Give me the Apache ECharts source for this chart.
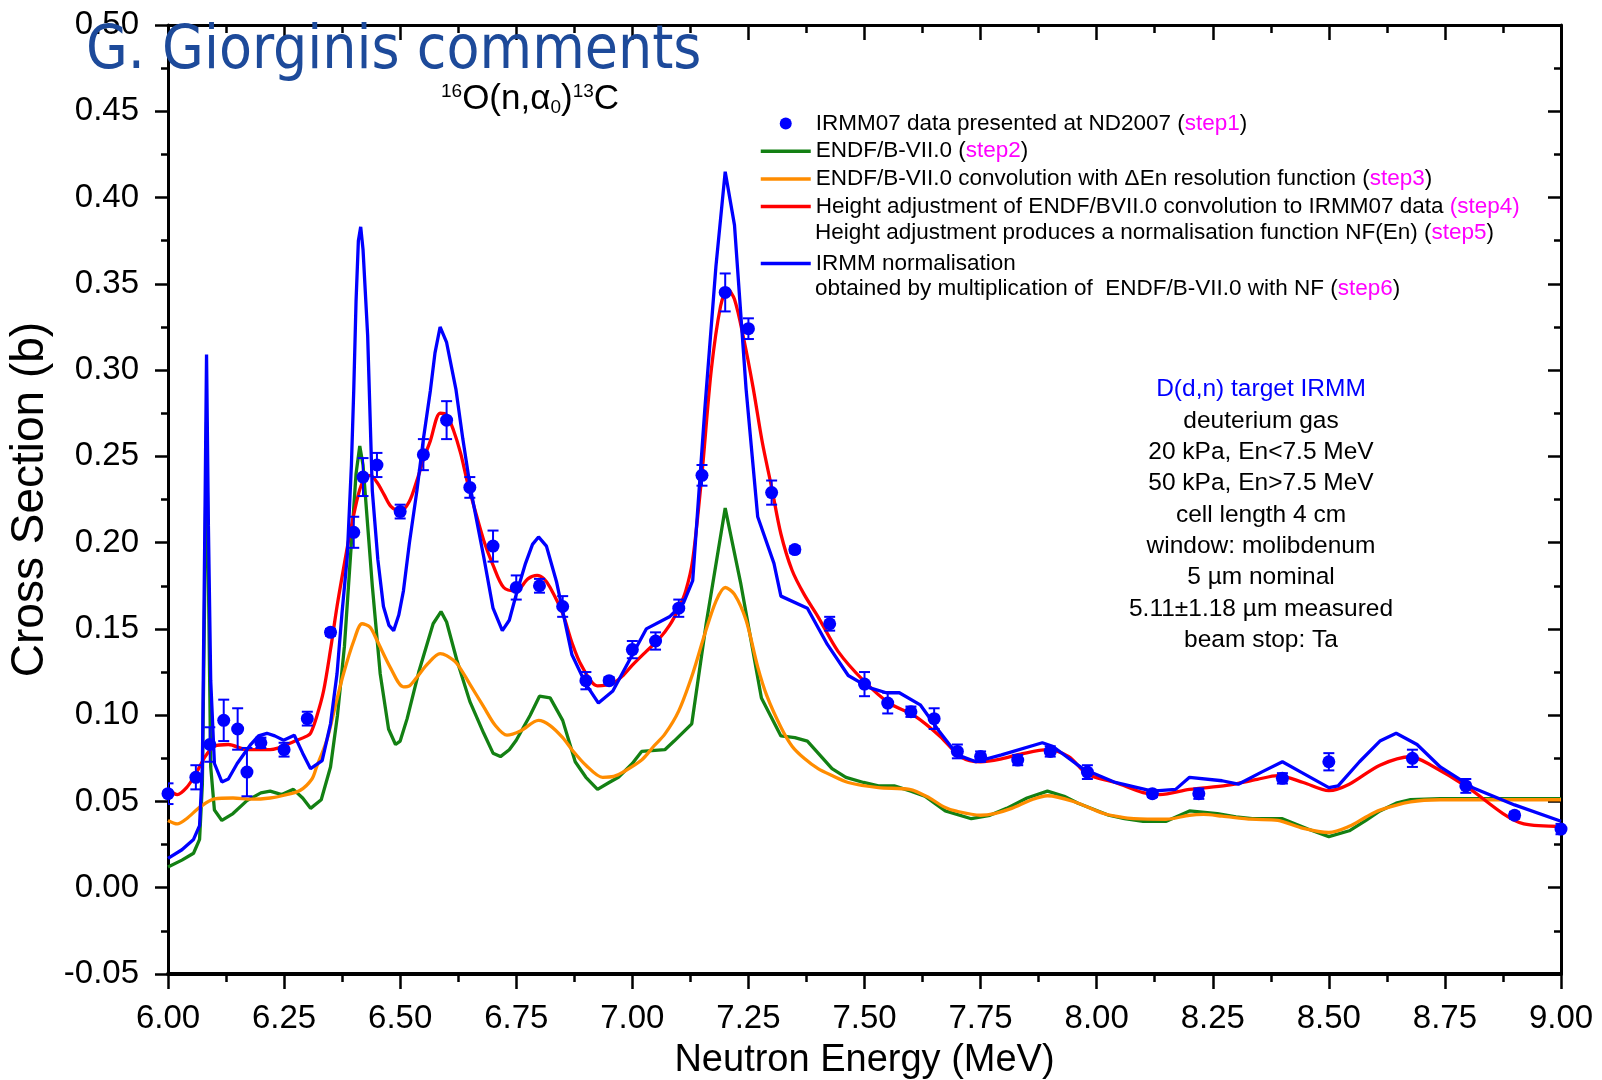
<!DOCTYPE html>
<html lang="en">
<head>
    <meta charset="UTF-8">
    <title>16O(n,a0)13C</title>
    <script src="https://cdn.jsdelivr.net/npm/echarts@6/dist/echarts.min.js"></script>
    <style>
        html, body {margin: 0; padding: 0; background: #fff;}
        #main {width: 1602px; height: 1080px;}
    </style>
</head>
<body>
<div id="main"></div>
<script type="text/javascript">
    // IRMM07 measured points: energy (MeV), cross section (b), error (b)
    var dataE   = [6.00, 6.06, 6.09, 6.12, 6.15, 6.17, 6.20, 6.25, 6.30, 6.35, 6.40, 6.42, 6.45, 6.50, 6.55, 6.60, 6.65, 6.70, 6.75, 6.80,
                   6.85, 6.90, 6.95, 7.00, 7.05, 7.10, 7.15, 7.20, 7.25, 7.30, 7.35, 7.425, 7.50, 7.55, 7.60, 7.65, 7.70, 7.75, 7.83, 7.90,
                   7.98, 8.12, 8.22, 8.40, 8.50, 8.68, 8.795, 8.90, 9.00];
    var dataXS  = [0.0545, 0.064, 0.083, 0.097, 0.092, 0.067, 0.084, 0.080, 0.098, 0.148, 0.206, 0.238, 0.245, 0.218, 0.251, 0.271, 0.232, 0.198, 0.174, 0.175,
                   0.163, 0.120, 0.120, 0.138, 0.143, 0.162, 0.239, 0.345, 0.324, 0.229, 0.196, 0.153, 0.118, 0.107, 0.102, 0.098, 0.079, 0.076, 0.074, 0.079,
                   0.067, 0.0545, 0.0545, 0.0634, 0.073, 0.075, 0.059, 0.042, 0.034];
    var dataErr = [0.006, 0.007, 0.010, 0.012, 0.012, 0.014, 0.003, 0.004, 0.004, 0.002, 0.009, 0.011, 0.007, 0.004, 0.009, 0.011, 0.006, 0.009, 0.007, 0.004,
                   0.006, 0.005, 0.002, 0.005, 0.005, 0.005, 0.006, 0.011, 0.006, 0.007, 0.002, 0.004, 0.007, 0.006, 0.003, 0.006, 0.004, 0.003, 0.003, 0.003,
                   0.004, 0.002, 0.003, 0.003, 0.005, 0.005, 0.004, 0.002, 0.003];

    // ENDF/B-VII.0 (step2)
    var endfB7 = [[6.00,0.012],[6.03,0.016],[6.055,0.020],[6.068,0.028],[6.074,0.060],[6.079,0.170],[6.083,0.270],[6.087,0.180],[6.092,0.070],[6.10,0.045],
        [6.116,0.039],[6.14,0.043],[6.17,0.0505],[6.20,0.055],[6.22,0.056],[6.245,0.054],[6.27,0.057],[6.29,0.052],[6.307,0.046],[6.33,0.051],
        [6.35,0.070],[6.365,0.100],[6.38,0.140],[6.395,0.200],[6.405,0.240],[6.413,0.256],[6.42,0.245],[6.43,0.210],[6.44,0.175],[6.457,0.124],
        [6.475,0.092],[6.49,0.083],[6.50,0.085],[6.515,0.098],[6.54,0.125],[6.571,0.153],[6.588,0.160],[6.60,0.154],[6.622,0.132],[6.65,0.108],
        [6.68,0.0895],[6.70,0.078],[6.716,0.076],[6.735,0.080],[6.75,0.0855],[6.78,0.100],[6.80,0.111],[6.823,0.110],[6.85,0.097],[6.877,0.073],
        [6.90,0.064],[6.925,0.057],[6.95,0.061],[6.97,0.064],[7.00,0.072],[7.02,0.079],[7.07,0.080],[7.09,0.085],[7.128,0.095],[7.159,0.153],
        [7.20,0.220],[7.233,0.177],[7.278,0.110],[7.32,0.088],[7.35,0.087],[7.377,0.085],[7.43,0.069],[7.46,0.064],[7.498,0.061],[7.53,0.059],
        [7.564,0.059],[7.60,0.056],[7.63,0.053],[7.674,0.0445],[7.73,0.040],[7.77,0.042],[7.806,0.046],[7.85,0.052],[7.894,0.056],[7.93,0.053],
        [7.96,0.049],[8.026,0.042],[8.06,0.040],[8.10,0.0385],[8.15,0.0385],[8.20,0.0445],[8.26,0.043],[8.30,0.041],[8.335,0.040],[8.40,0.040],
        [8.455,0.034],[8.50,0.0296],[8.544,0.033],[8.58,0.039],[8.61,0.0445],[8.645,0.049],[8.676,0.051],[8.74,0.0516],[9.00,0.0516]];

    // ENDF/B-VII.0 convolved with resolution function (step3)
    var endfConv = [[6.00,0.039],[6.02,0.037],[6.04,0.040],[6.07,0.047],[6.10,0.0515],[6.14,0.052],[6.18,0.0513],[6.22,0.052],[6.25,0.0536],[6.285,0.0565],
        [6.31,0.063],[6.32,0.070],[6.342,0.0855],[6.36,0.105],[6.378,0.124],[6.40,0.143],[6.418,0.153],[6.435,0.151],[6.45,0.1434],[6.48,0.127],
        [6.507,0.1164],[6.52,0.117],[6.536,0.122],[6.56,0.130],[6.586,0.1357],[6.60,0.1345],[6.622,0.130],[6.65,0.118],[6.68,0.1048],[6.705,0.094],
        [6.73,0.0884],[6.76,0.091],[6.798,0.097],[6.823,0.094],[6.85,0.087],[6.87,0.080],[6.90,0.071],[6.936,0.064],[6.96,0.0645],[6.98,0.067],
        [7.02,0.074],[7.046,0.082],[7.07,0.089],[7.10,0.1025],[7.13,0.124],[7.156,0.147],[7.18,0.166],[7.20,0.174],[7.22,0.170],[7.245,0.155],
        [7.27,0.128],[7.29,0.111],[7.32,0.093],[7.344,0.082],[7.37,0.075],[7.40,0.069],[7.43,0.065],[7.465,0.061],[7.53,0.058],[7.597,0.057],
        [7.64,0.052],[7.67,0.047],[7.696,0.0445],[7.75,0.042],[7.78,0.043],[7.817,0.046],[7.86,0.051],[7.894,0.0533],[7.95,0.050],[8.015,0.043],
        [8.05,0.041],[8.08,0.040],[8.15,0.0397],[8.20,0.042],[8.23,0.0425],[8.27,0.0415],[8.335,0.0397],[8.39,0.039],[8.445,0.0344],[8.50,0.032],
        [8.544,0.0356],[8.58,0.041],[8.61,0.045],[8.676,0.0498],[8.74,0.051],[9.00,0.051]];

    // height adjusted convolution (step4)
    var heightAdj = [[6.00,0.057],[6.02,0.054],[6.04,0.058],[6.06,0.066],[6.08,0.076],[6.10,0.082],[6.13,0.083],[6.17,0.080],[6.22,0.080],[6.278,0.0855],
        [6.30,0.088],[6.307,0.0895],[6.32,0.099],[6.335,0.114],[6.35,0.138],[6.364,0.163],[6.38,0.188],[6.393,0.207],[6.41,0.228],[6.421,0.236],
        [6.436,0.239],[6.45,0.235],[6.465,0.228],[6.48,0.221],[6.50,0.218],[6.52,0.224],[6.536,0.236],[6.55,0.248],[6.565,0.259],[6.586,0.275],
        [6.60,0.274],[6.615,0.265],[6.63,0.252],[6.644,0.236],[6.66,0.220],[6.68,0.2013],[6.70,0.187],[6.723,0.174],[6.75,0.172],[6.775,0.179],
        [6.795,0.181],[6.81,0.179],[6.823,0.174],[6.85,0.159],[6.87,0.142],[6.89,0.129],[6.925,0.117],[6.958,0.1185],[6.98,0.123],[7.00,0.129],
        [7.03,0.137],[7.057,0.144],[7.08,0.152],[7.10,0.162],[7.115,0.172],[7.13,0.190],[7.15,0.240],[7.17,0.300],[7.19,0.337],[7.205,0.347],
        [7.22,0.341],[7.24,0.318],[7.26,0.290],[7.28,0.258],[7.30,0.232],[7.32,0.205],[7.344,0.184],[7.37,0.170],[7.40,0.157],[7.443,0.137],
        [7.498,0.120],[7.553,0.107],[7.608,0.0996],[7.663,0.0877],[7.707,0.0759],[7.75,0.073],[7.795,0.0747],[7.84,0.0777],[7.894,0.080],[7.94,0.0759],
        [7.98,0.0658],[8.04,0.061],[8.10,0.0551],[8.136,0.054],[8.20,0.057],[8.28,0.0593],[8.346,0.0628],[8.39,0.065],[8.445,0.061],[8.50,0.0563],
        [8.544,0.060],[8.61,0.071],[8.676,0.0759],[8.72,0.071],[8.80,0.058],[8.875,0.043],[8.92,0.037],[9.00,0.0356]];

    // IRMM normalisation (step6)
    var irmmNorm = [[6.00,0.017],[6.03,0.022],[6.055,0.028],[6.068,0.036],[6.074,0.070],[6.079,0.200],[6.083,0.309],[6.087,0.210],[6.092,0.120],[6.10,0.072],
        [6.116,0.0613],[6.13,0.063],[6.149,0.072],[6.177,0.0826],[6.195,0.088],[6.213,0.0895],[6.23,0.088],[6.249,0.0855],[6.272,0.0884],[6.29,0.078],
        [6.307,0.069],[6.332,0.0736],[6.35,0.095],[6.364,0.124],[6.375,0.160],[6.386,0.1917],[6.395,0.245],[6.40,0.288],[6.405,0.340],[6.41,0.375],
        [6.415,0.383],[6.42,0.370],[6.43,0.320],[6.44,0.230],[6.452,0.190],[6.464,0.163],[6.476,0.152],[6.486,0.149],[6.497,0.158],[6.507,0.172],
        [6.52,0.200],[6.536,0.230],[6.55,0.260],[6.565,0.288],[6.575,0.310],[6.586,0.325],[6.60,0.316],[6.62,0.289],[6.635,0.260],[6.651,0.232],
        [6.68,0.1917],[6.70,0.162],[6.72,0.149],[6.735,0.155],[6.75,0.170],[6.77,0.188],[6.785,0.199],[6.798,0.2033],[6.815,0.198],[6.837,0.177],
        [6.87,0.135],[6.90,0.118],[6.927,0.107],[6.958,0.114],[7.00,0.135],[7.03,0.150],[7.08,0.157],[7.11,0.165],[7.13,0.178],[7.156,0.277],
        [7.18,0.360],[7.20,0.415],[7.22,0.384],[7.245,0.289],[7.27,0.215],[7.305,0.188],[7.32,0.169],[7.377,0.162],[7.42,0.141],[7.465,0.123],
        [7.51,0.116],[7.547,0.113],[7.575,0.113],[7.62,0.106],[7.66,0.091],[7.70,0.077],[7.74,0.073],[7.795,0.077],[7.883,0.084],[7.905,0.082],
        [7.97,0.069],[8.04,0.061],[8.12,0.056],[8.17,0.057],[8.20,0.064],[8.27,0.062],[8.305,0.060],[8.355,0.067],[8.40,0.073],[8.44,0.067],
        [8.50,0.058],[8.52,0.059],[8.566,0.073],[8.61,0.085],[8.645,0.0895],[8.69,0.083],[8.74,0.070],[8.81,0.058],[8.90,0.048],[9.00,0.0385]];

    var nameData = 'IRMM07 data presented at ND2007';
    var nameEndf = 'ENDF/B-VII.0';
    var nameConv = 'ENDF/B-VII.0 convolution with \u0394En resolution function';
    var nameAdj  = 'Height adjustment of ENDF/BVII.0 convolution to IRMM07 data';
    var nameNorm = 'IRMM normalisation';
    var steps = {};
    steps[nameData] = '({m|step1})';
    steps[nameEndf] = '({m|step2})';
    steps[nameConv] = '({m|step3})';
    steps[nameAdj]  = '{m|(step4)}';
    steps[nameNorm] = '';

    var infoLines = ['deuterium gas', '20 kPa, En<7.5 MeV', '50 kPa, En>7.5 MeV', 'cell length 4 cm',
        'window: molibdenum', '5 \u00b5m nominal', '5.11\u00b11.18 \u00b5m measured', 'beam stop: Ta'];

    var sans = '"Liberation Sans", Arial, sans-serif';
    var magenta = '#ff00ff';

    var pts = [], errs = [];
    for (var i = 0; i < dataE.length; i++) {
        pts.push([dataE[i], dataXS[i]]);
        errs.push([dataE[i], dataXS[i] - dataErr[i], dataXS[i] + dataErr[i]]);
    }

    function renderErr(params, api) {
        var x = api.value(0);
        var lo = api.coord([x, api.value(1)]);
        var hi = api.coord([x, api.value(2)]);
        var w = 5.5;
        var st = {stroke: '#0000ff', lineWidth: 2};
        return {
            type: 'group',
            children: [
                {type: 'line', shape: {x1: lo[0], y1: lo[1], x2: hi[0], y2: hi[1]}, style: st},
                {type: 'line', shape: {x1: lo[0] - w, y1: lo[1], x2: lo[0] + w, y2: lo[1]}, style: st},
                {type: 'line', shape: {x1: hi[0] - w, y1: hi[1], x2: hi[0] + w, y2: hi[1]}, style: st}
            ]
        };
    }

    function xAxisOpt(pos) {
        var inside = pos === 'top';
        return {
            type: 'value', position: pos, min: 6, max: 9, interval: 0.25,
            name: inside ? '' : 'Neutron Energy (MeV)',
            nameLocation: 'middle', nameGap: 68,
            nameTextStyle: {fontFamily: sans, fontSize: 38, color: '#000'},
            axisLine: {show: true, onZero: false, lineStyle: {color: '#000', width: inside ? 3 : 4}},
            axisTick: {show: true, inside: inside, length: 15, lineStyle: {color: '#000', width: 2.5}},
            minorTick: {show: true, splitNumber: 2, length: 8, lineStyle: {color: '#000', width: 2.5}},
            axisLabel: {show: !inside, margin: 28, fontFamily: sans, fontSize: 33, color: '#000',
                formatter: function (v) { return v.toFixed(2); }},
            splitLine: {show: false}
        };
    }

    function yAxisOpt(pos) {
        var inside = pos === 'right';
        return {
            type: 'value', position: pos, min: -0.05, max: 0.5, interval: 0.05,
            name: inside ? '' : 'Cross Section (b)',
            nameLocation: 'middle', nameGap: 106,
            nameTextStyle: {fontFamily: sans, fontSize: 46, color: '#000'},
            axisLine: {show: true, onZero: false, lineStyle: {color: '#000', width: 3}},
            axisTick: {show: true, inside: inside, length: 13, lineStyle: {color: '#000', width: 2.5}},
            minorTick: {show: true, splitNumber: 2, length: 7, lineStyle: {color: '#000', width: 2.5}},
            axisLabel: {show: !inside, margin: 29, fontFamily: sans, fontSize: 33, color: '#000',
                formatter: function (v) { return v.toFixed(2); }},
            splitLine: {show: false}
        };
    }

    var legendText = {
        fontFamily: sans, fontSize: 22.5, color: '#000', lineHeight: 20,
        rich: {m: {color: magenta, fontFamily: sans, fontSize: 22.5, lineHeight: 20}}
    };
    function legendFmt(name) {
        return steps[name] ? name + ' ' + steps[name] : name;
    }
    var noDot = {opacity: 0};
    var thick = {width: 3.5};

    var myChart = echarts.init(document.getElementById('main'), null, {renderer: 'canvas'});
    myChart.setOption({
        backgroundColor: '#fff',
        animation: false,
        grid: {left: 168, right: 41, top: 25, bottom: 106, outerBoundsMode: 'none', containLabel: false},
        xAxis: [xAxisOpt('bottom'), xAxisOpt('top')],
        yAxis: [yAxisOpt('left'), yAxisOpt('right')],
        legend: [{
            orient: 'vertical', left: 759, top: 112, padding: 0,
            itemWidth: 50, itemHeight: 12, itemGap: 4.7,
            textStyle: legendText, formatter: legendFmt,
            data: [{name: nameData, icon: 'circle'},
                {name: nameEndf, itemStyle: noDot, lineStyle: thick},
                {name: nameConv, itemStyle: noDot, lineStyle: thick},
                {name: nameAdj, itemStyle: noDot, lineStyle: thick}]
        }, {
            orient: 'vertical', left: 759, top: 252, padding: 0,
            itemWidth: 50, itemHeight: 12, itemGap: 4.7,
            textStyle: legendText, formatter: legendFmt,
            data: [{name: nameNorm, itemStyle: noDot, lineStyle: thick}]
        }],
        graphic: [
            {type: 'text', left: 86, top: 22, z: 100,
                style: {text: 'G. Giorginis comments', fill: '#1d4a9a', fontFamily: '"DejaVu Sans Condensed", "DejaVu Sans", sans-serif', fontSize: 60}},
            {type: 'text', left: 441, top: 82, z: 100,
                style: {text: '{s|16}O(n,\u03b1{d|0}){s|13}C', fill: '#000', fontFamily: sans, fontSize: 35,
                    rich: {s: {fontSize: 19, verticalAlign: 'top', fontFamily: sans},
                        d: {fontSize: 19, verticalAlign: 'bottom', fontFamily: sans, padding: [14, 0, 0, 0]}}}},
            {type: 'text', x: 815, y: 233, z: 100,
                style: {text: 'Height adjustment produces a normalisation function NF(En) ({m|step5})', fill: '#000',
                    fontFamily: sans, fontSize: 22.5, verticalAlign: 'middle',
                    rich: {m: {fill: magenta, fontFamily: sans, fontSize: 22.5}}}},
            {type: 'text', x: 815, y: 289, z: 100,
                style: {text: 'obtained by multiplication of  ENDF/B-VII.0 with NF ({m|step6})', fill: '#000',
                    fontFamily: sans, fontSize: 22.5, verticalAlign: 'middle',
                    rich: {m: {fill: magenta, fontFamily: sans, fontSize: 22.5}}}},
            {type: 'text', x: 1261, y: 374, z: 100,
                style: {text: '{b|D(d,n) target IRMM}\n' + infoLines.join('\n'), fill: '#000', align: 'center',
                    fontFamily: sans, fontSize: 24.5, lineHeight: 31.3,
                    rich: {b: {fill: '#0000ff', fontFamily: sans, fontSize: 24.5, lineHeight: 31.3}}}}
        ],
        series: [
            {name: nameEndf, type: 'line', data: endfB7, showSymbol: false, symbol: 'none',
                lineStyle: {color: '#138013', width: 3.3}, itemStyle: {color: '#138013'}, z: 2},
            {name: nameConv, type: 'line', data: endfConv, showSymbol: false, symbol: 'none', smooth: 0.3,
                lineStyle: {color: '#ff8c00', width: 3.3}, itemStyle: {color: '#ff8c00'}, z: 3},
            {name: nameAdj, type: 'line', data: heightAdj, showSymbol: false, symbol: 'none', smooth: 0.3,
                lineStyle: {color: '#ff0000', width: 3.3}, itemStyle: {color: '#ff0000'}, z: 4},
            {name: nameNorm, type: 'line', data: irmmNorm, showSymbol: false, symbol: 'none',
                lineStyle: {color: '#0000ff', width: 3.3}, itemStyle: {color: '#0000ff'}, z: 5},
            {name: 'err', type: 'custom', data: errs, renderItem: renderErr, clip: true,
                encode: {x: 0, y: [1, 2]}, z: 6, silent: true},
            {name: nameData, type: 'scatter', data: pts, symbol: 'circle', symbolSize: 13, clip: true,
                itemStyle: {color: '#0000ff', opacity: 1}, z: 7}
        ]
    });
</script>
</body>
</html>
